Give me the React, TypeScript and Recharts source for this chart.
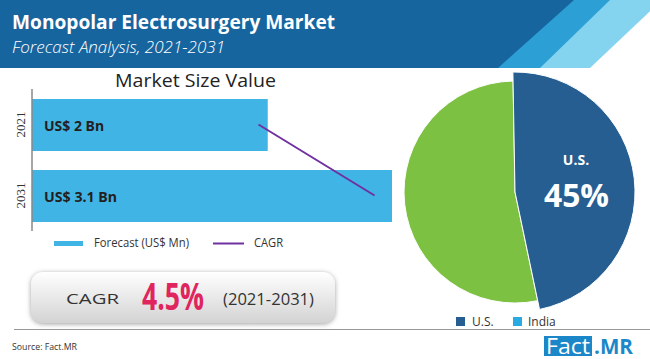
import React from 'react';
import { ComposedChart, Bar, Line, XAxis, YAxis, LabelList, PieChart, Pie, Cell } from 'recharts';

const categories = ['2021', '2031'];
const marketSize = [2.03, 3.1];
const cagrLine = [1.95, 2.95];
const barLabels = ['US$ 2 Bn', 'US$ 3.1 Bn'];
const regions = ['U.S.', 'India'];
const shares = [47, 53];
const usShareLabel = '45%';
const cagrValue = '4.5%';
const period = '(2021-2031)';

const barRows = categories.map((c, i) => ({ year: c, size: marketSize[i], cagr: cagrLine[i], label: barLabels[i] }));
const pieRows = regions.map((r, i) => ({ name: r, value: shares[i] }));

const BAR = '#41b4e6';
const PURPLE = '#7030a0';
const US_BLUE = '#265e92';
const GREEN = '#7dc142';
const INDIA_BLUE = '#29abe2';
const SANS = '"Open Sans", "Noto Sans", sans-serif';

const YTick = (props: any) => {
  const { y, payload } = props;
  return (
    <text x={20} y={y} transform={`rotate(-90, 20, ${y})`} textAnchor="middle" dominantBaseline="central"
      fontFamily='"Liberation Serif", serif' fontSize={13} fill="#333">{payload.value}</text>
  );
};

const BarLabel = (props: any) => {
  const { x, y, height, value } = props;
  const len = String(value).length > 8 ? 73 : 60;
  return (
    <text x={Number(x) + 12} y={Number(y) + Number(height) / 2} dominantBaseline="central"
      fontFamily='"Noto Sans", sans-serif' fontWeight={700} fontSize={14} fill="#231f20"
      textLength={len} lengthAdjust="spacingAndGlyphs">{value}</text>
  );
};

export default function App() {
  return (
    <div style={{ position: 'absolute', left: 0, top: 0, width: 650, height: 359, background: '#fff', overflow: 'hidden' }}>
      <svg width={650} height={359} style={{ position: 'absolute', left: 0, top: 0 }}>
        <defs>
          <linearGradient id="boxg" x1="0" y1="0" x2="0" y2="1">
            <stop offset="0%" stopColor="#ffffff" />
            <stop offset="100%" stopColor="#d3d3d3" />
          </linearGradient>
          <filter id="sh" x="-10%" y="-20%" width="120%" height="150%">
            <feDropShadow dx="0" dy="1" stdDeviation="2.5" floodColor="#777" floodOpacity="0.7" />
          </filter>
        </defs>
        <polygon points="0,0 662,0 590,68 0,68" fill="#84d4ef" />
        <polygon points="0,0 610,0 540,68 0,68" fill="#2c9fd5" />
        <polygon points="0,0 574,0 498,68 0,68" fill="#17659f" />
        <text x={12} y={29} fill="#fff" fontFamily={SANS} fontWeight={700} fontSize={20} textLength={323} lengthAdjust="spacingAndGlyphs">Monopolar Electrosurgery Market</text>
        <text x={12} y={53} fill="#fff" fontFamily={SANS} fontStyle="italic" fontWeight={300} fontSize={16} textLength={213} lengthAdjust="spacingAndGlyphs">Forecast Analysis, 2021-2031</text>
        <text x={115} y={87} fill="#222" fontFamily={SANS} fontSize={19} textLength={161} lengthAdjust="spacingAndGlyphs">Market Size Value</text>
        <rect x={54} y={241} width={29} height={5} fill={BAR} />
        <text x={94} y={247} fill="#333" fontFamily={SANS} fontSize={12} textLength={95} lengthAdjust="spacingAndGlyphs">Forecast (US$ Mn)</text>
        <line x1={213} y1={243.5} x2={244} y2={243.5} stroke={PURPLE} strokeWidth={2} />
        <text x={254} y={247} fill="#333" fontFamily={SANS} fontSize={12} textLength={29} lengthAdjust="spacingAndGlyphs">CAGR</text>
        <rect x={31} y={272} width={304} height={51} rx={12} fill="url(#boxg)" filter="url(#sh)" />
        <text x={66} y={304} fill="#333" fontFamily={SANS} fontSize={15} textLength={53} lengthAdjust="spacingAndGlyphs">CAGR</text>
        <text x={142} y={310} fill="#e0245e" fontFamily={SANS} fontWeight={700} fontSize={38} textLength={62} lengthAdjust="spacingAndGlyphs">{cagrValue}</text>
        <text x={223} y={305} fill="#333" fontFamily={SANS} fontSize={17} textLength={91} lengthAdjust="spacingAndGlyphs">{period}</text>
        <line x1={14} y1={329.5} x2={650} y2={329.5} stroke="#999" strokeWidth={1} />
        <text x={12} y={350} fill="#333" fontFamily={SANS} fontSize={9} textLength={65} lengthAdjust="spacingAndGlyphs">Source: Fact.MR</text>
        <rect x={456} y={317} width={9} height={9} fill={US_BLUE} />
        <text x={472} y={326} fill="#333" fontFamily={SANS} fontSize={12}>{regions[0]}</text>
        <rect x={513} y={317} width={9} height={9} fill={INDIA_BLUE} />
        <text x={528} y={326} fill="#333" fontFamily={SANS} fontSize={12}>{regions[1]}</text>
        <rect x={544} y={336} width={48} height={20} fill="#1b87c9" />
        <text x={546} y={354} fill="#fff" fontFamily={SANS} fontSize={21} textLength={44} lengthAdjust="spacingAndGlyphs">Fact</text>
        <text x={594} y={354} fill="#1b87c9" fontFamily={SANS} fontWeight={700} fontSize={21} textLength={39} lengthAdjust="spacingAndGlyphs">.MR</text>
      </svg>

      <div style={{ position: 'absolute', left: 0, top: 0 }}>
        <ComposedChart width={400} height={240} data={barRows} layout="vertical" margin={{ top: 89, right: 8, bottom: 9, left: 0 }}>
          <XAxis type="number" domain={[0, 3.1]} hide />
          <YAxis type="category" dataKey="year" width={32} tick={<YTick />} tickLine={false}
            axisLine={{ stroke: '#888', strokeWidth: 1.5 }} />
          <Bar dataKey="size" fill={BAR} barSize={52} isAnimationActive={false}>
            <LabelList dataKey="label" content={<BarLabel />} />
          </Bar>
          <Line dataKey="cagr" stroke={PURPLE} strokeWidth={2} dot={false} isAnimationActive={false} />
        </ComposedChart>
      </div>

      <div style={{ position: 'absolute', left: 390, top: 60 }}>
        <PieChart width={260} height={265} margin={{ top: 0, right: 0, bottom: 0, left: 0 }}>
          <Pie data={pieRows} dataKey="value" cx={125} cy={132} outerRadius={111} startAngle={91} endAngle={-269}
            stroke="#fff" strokeWidth={1} isAnimationActive={false}>
            {pieRows.map((r, i) => (
              <Cell key={r.name} fill={i === 1 ? GREEN : 'transparent'} stroke={i === 1 ? '#fff' : 'none'} />
            ))}
          </Pie>
          <Pie data={pieRows} dataKey="value" cx={125} cy={132} outerRadius={120} startAngle={91} endAngle={-269}
            isAnimationActive={false}>
            {pieRows.map((r, i) => (
              <Cell key={r.name} fill={i === 0 ? US_BLUE : 'transparent'} stroke={i === 0 ? '#fff' : 'none'} strokeWidth={1} />
            ))}
          </Pie>
        </PieChart>
      </div>

      <svg width={650} height={359} style={{ position: 'absolute', left: 0, top: 0, pointerEvents: 'none' }}>
        <text x={576} y={165} textAnchor="middle" fill="#fff" fontFamily={SANS} fontWeight={700} fontSize={14}>{regions[0]}</text>
        <text x={544} y={207} fill="#fff" fontFamily={SANS} fontWeight={700} fontSize={33} textLength={65} lengthAdjust="spacingAndGlyphs">{usShareLabel}</text>
      </svg>
    </div>
  );
}
